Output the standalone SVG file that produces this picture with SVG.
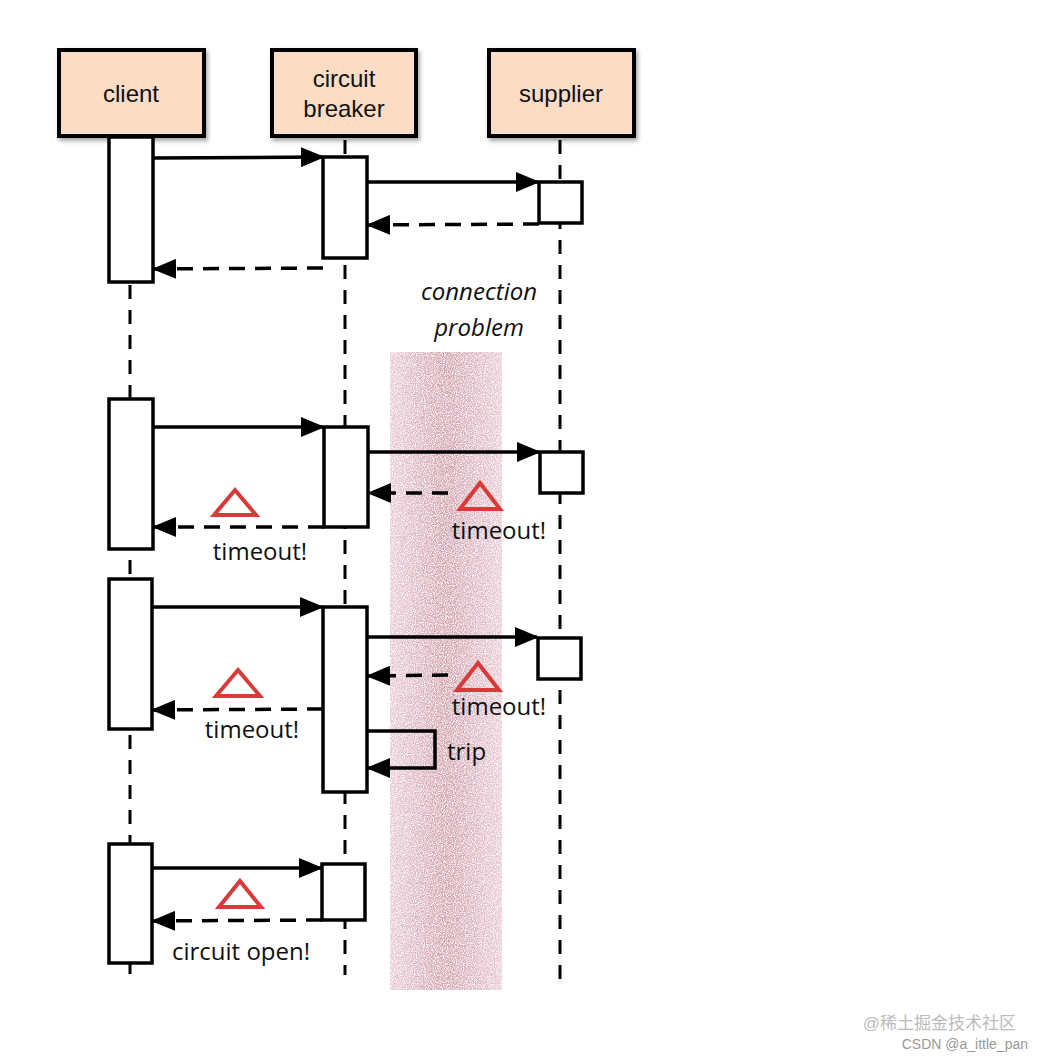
<svg xmlns="http://www.w3.org/2000/svg" width="1044" height="1060" viewBox="0 0 1044 1060">
<defs>
<style>
.hd{fill:#fbdcc4;stroke:#000;stroke-width:4}
.ht{font-family:"Liberation Sans",Arial,sans-serif;font-size:24px;text-anchor:middle;fill:#111}
.life{stroke:#000;stroke-width:3;stroke-dasharray:14,11;fill:none}
.act{fill:#fff;stroke:#000;stroke-width:3.5}
.msg{stroke:#000;stroke-width:3.5;fill:none;marker-end:url(#ah)}
.ret{stroke:#000;stroke-width:3.5;fill:none;stroke-dasharray:16,10;marker-end:url(#ah)}
.lb{font-family:"Open Sans","DejaVu Sans",sans-serif;font-size:24px;fill:#111}
.tri{fill:none;stroke:#d83a3a;stroke-width:4}
</style>
<marker id="ah" markerWidth="24" markerHeight="20" refX="22" refY="10" orient="auto" markerUnits="userSpaceOnUse" viewBox="0 0 24 20"><path d="M0,0L24,10L0,20z" fill="#000"/></marker>
<filter id="sh" x="-10%" y="-10%" width="130%" height="130%"><feDropShadow dx="2" dy="3" stdDeviation="2" flood-opacity="0.35"/></filter>
<linearGradient id="bg" x1="0" x2="1" y1="0" y2="0"><stop offset="0" stop-color="#e2bcc6"/><stop offset="0.45" stop-color="#c68b9b"/><stop offset="0.55" stop-color="#c68b9b"/><stop offset="1" stop-color="#e2bcc6"/></linearGradient>
<filter id="noise" x="0" y="0" width="100%" height="100%"><feTurbulence type="fractalNoise" baseFrequency="0.9" numOctaves="2" result="n"/><feColorMatrix in="n" type="matrix" values="0 0 0 0 1 0 0 0 0 1 0 0 0 0 1 0 0 0 -2.5 1.6" result="m"/><feComposite in="SourceGraphic" in2="m" operator="out"/></filter>
</defs>
<rect width="1044" height="1060" fill="#fff"/>
<g id="band" opacity="0.8"><rect x="390" y="352" width="112" height="638" fill="url(#bg)" filter="url(#noise)"/></g>
<g id="lifelines">
<line class="life" x1="130" y1="285" x2="130" y2="985"/>
<line class="life" x1="345" y1="140" x2="345" y2="975"/>
<line class="life" x1="560" y1="140" x2="560" y2="985"/>
</g>
<g id="client"><rect class="hd" x="59" y="50" width="145" height="86" filter="url(#sh)"/><text class="ht" x="131" y="102">client</text></g>
<g id="breaker"><rect class="hd" x="272" y="50" width="144" height="86" filter="url(#sh)"/><text class="ht" x="344" y="87">circuit</text><text class="ht" x="344" y="117">breaker</text></g>
<g id="supplier"><rect class="hd" x="489" y="50" width="145" height="86" filter="url(#sh)"/><text class="ht" x="561" y="102">supplier</text></g>
<g id="activations">
<rect class="act" x="109" y="137" width="44" height="145"/>
<rect class="act" x="323" y="157" width="44" height="101"/>
<rect class="act" x="539" y="182" width="43" height="41"/>
<rect class="act" x="109" y="399" width="44" height="150"/>
<rect class="act" x="324" y="427" width="44" height="100"/>
<rect class="act" x="540" y="452" width="43" height="41"/>
<rect class="act" x="109" y="579" width="43" height="150"/>
<rect class="act" x="323" y="607" width="44" height="185"/>
<rect class="act" x="538" y="638" width="43" height="41"/>
<rect class="act" x="109" y="844" width="43" height="119"/>
<rect class="act" x="322" y="864" width="43" height="56"/>
</g>
<g id="connectors">
<line class="msg" x1="153" y1="158" x2="323" y2="157"/>
<line class="msg" x1="367" y1="182" x2="538" y2="182"/>
<line class="ret" x1="539" y1="224" x2="368" y2="225"/>
<line class="ret" x1="323" y1="268" x2="154" y2="269"/>
<line class="msg" x1="153" y1="427" x2="323" y2="427"/>
<line class="msg" x1="368" y1="452" x2="539" y2="452"/>
<line class="ret" x1="448" y1="493" x2="369" y2="493"/>
<line class="ret" x1="324" y1="527" x2="154" y2="527"/>
<line class="msg" x1="152" y1="607" x2="322" y2="607"/>
<line class="msg" x1="367" y1="637" x2="537" y2="637"/>
<line class="ret" x1="448" y1="675" x2="368" y2="676"/>
<line class="ret" x1="323" y1="709" x2="153" y2="710"/>
<polyline class="msg" points="367,731 435,731 435,768 368,768"/>
<line class="msg" x1="152" y1="868" x2="321" y2="868"/>
<line class="ret" x1="322" y1="920" x2="153" y2="921"/>
</g>
<g id="labels">
<text class="lb" x="479" y="300" text-anchor="middle" font-style="italic">connection</text>
<text class="lb" x="479" y="336" text-anchor="middle" font-style="italic">problem</text>
<polygon class="tri" points="235,490 256,515 214,515"/>
<text class="lb" x="260" y="560" text-anchor="middle">timeout!</text>
<polygon class="tri" points="480,483 500,509 460,509"/>
<text class="lb" x="499" y="539" text-anchor="middle">timeout!</text>
<polygon class="tri" points="238,670 260,696 216,696"/>
<text class="lb" x="252" y="738" text-anchor="middle">timeout!</text>
<polygon class="tri" points="478,663 499,690 457,690"/>
<text class="lb" x="499" y="715" text-anchor="middle">timeout!</text>
<text class="lb" x="447" y="760">trip</text>
<polygon class="tri" points="240,881 261,907 219,907"/>
<text class="lb" x="241" y="960" text-anchor="middle">circuit open!</text>
</g>
<g id="watermark" font-family="'Liberation Sans','Noto Sans CJK SC',sans-serif" fill="#bbb">
<text x="1016" y="1029" font-size="17" text-anchor="end">@稀土掘金技术社区</text>
<text x="1028" y="1049" font-size="14" text-anchor="end" fill="#999">CSDN @a_ittle_pan</text>
</g>
</svg>
